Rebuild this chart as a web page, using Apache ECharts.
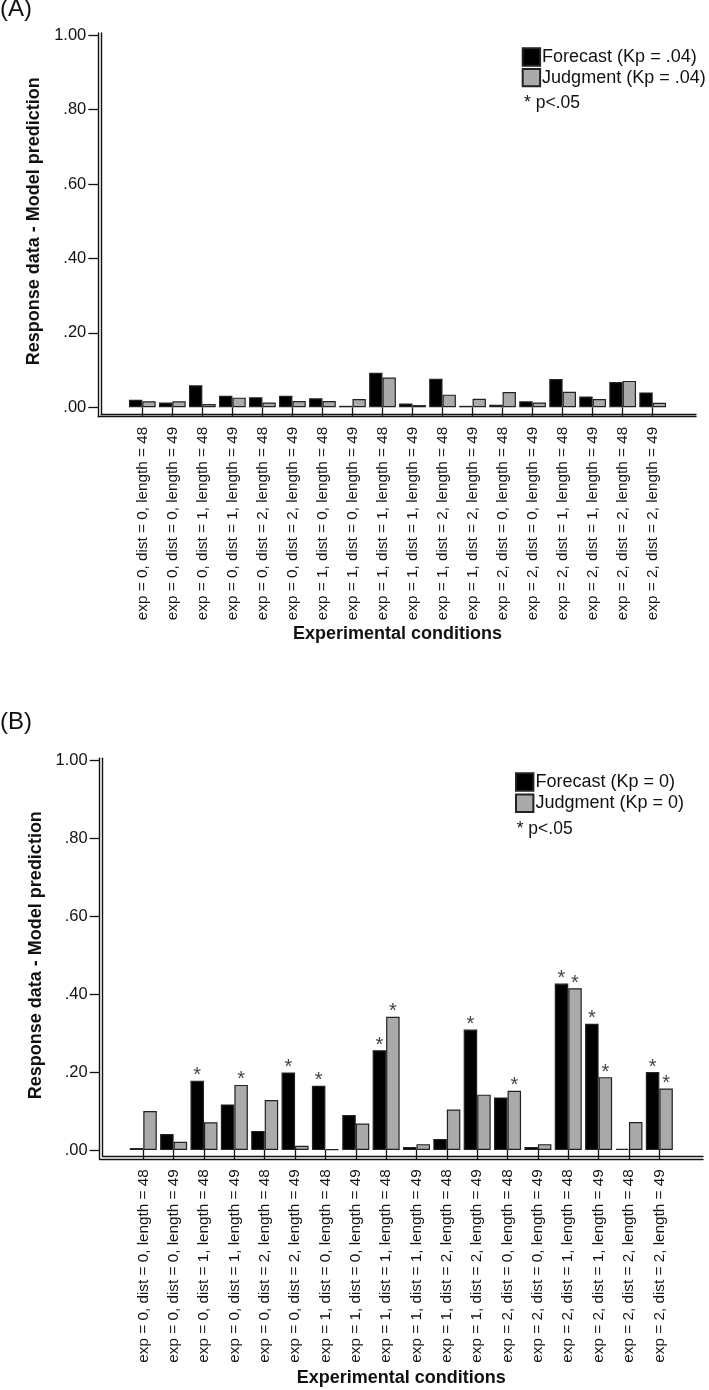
<!DOCTYPE html>
<html><head><meta charset="utf-8">
<script src="https://cdn.jsdelivr.net/npm/echarts@6.0.0/dist/echarts.min.js"></script>
<style>html,body{margin:0;padding:0;background:#fff}#c{width:709px;height:1390px}</style>
</head><body><div id="c"></div>
<script>
// ---- data ----
const categories = [
  'exp = 0, dist = 0, length = 48','exp = 0, dist = 0, length = 49',
  'exp = 0, dist = 1, length = 48','exp = 0, dist = 1, length = 49',
  'exp = 0, dist = 2, length = 48','exp = 0, dist = 2, length = 49',
  'exp = 1, dist = 0, length = 48','exp = 1, dist = 0, length = 49',
  'exp = 1, dist = 1, length = 48','exp = 1, dist = 1, length = 49',
  'exp = 1, dist = 2, length = 48','exp = 1, dist = 2, length = 49',
  'exp = 2, dist = 0, length = 48','exp = 2, dist = 0, length = 49',
  'exp = 2, dist = 1, length = 48','exp = 2, dist = 1, length = 49',
  'exp = 2, dist = 2, length = 48','exp = 2, dist = 2, length = 49'
];
const forecastA = [.020,.013,.059,.031,.027,.031,.024,.004,.093,.010,.077,.004,.007,.016,.076,.029,.068,.040];
const judgmentA = [.016,.016,.009,.026,.013,.017,.017,.022,.080,.006,.034,.023,.041,.013,.042,.022,.071,.012];
const forecastB = [.005,.041,.178,.117,.049,.199,.165,.090,.256,.008,.028,.309,.135,.008,.427,.324,.003,.200];
const judgmentB = [.100,.021,.071,.167,.128,.011,.002,.068,.342,.015,.104,.142,.152,.015,.415,.187,.072,.158];
const sigForecastB = [0,0,1,0,0,1,1,0,1,0,0,1,0,0,1,1,0,1];
const sigJudgmentB = [0,0,0,1,0,0,0,0,1,0,0,0,1,0,1,1,0,1];
const namesA = ['Forecast (Kp = .04)','Judgment (Kp = .04)'];
const namesB = ['Forecast (Kp = 0)','Judgment (Kp = 0)'];
const yTickLabels = ['.00','.20','.40','.60','.80','1.00'];
const yAxisTitle = 'Response data - Model prediction';
const xAxisTitle = 'Experimental conditions';
const noteText = '* p<.05';

// ---- styles ----
const FONT = '"Liberation Sans", Arial, Helvetica, sans-serif';
const INK = '#111';
const H = 1390;

function panel(p) {
  const gi = p.gridBase;
  const grids = [
    {left:p.barLeft, right:p.barRight, top:p.barTop, bottom:H-p.barBase, outerBoundsMode:'none', containLabel:false},
    {left:p.outerX, right:p.frameRight, top:p.frameTop, bottom:H-p.outerY, outerBoundsMode:'none', containLabel:false},
    {left:p.innerX, right:p.frameRight, top:p.frameTop, bottom:H-p.innerY, outerBoundsMode:'none', containLabel:false}
  ];
  const lineAxis = (idx) => ({
    type:'value', gridIndex:idx, min:0, max:1, silent:true,
    axisLine:{show:true, onZero:false, lineStyle:{color:INK, width:1.4}},
    axisTick:{show:false}, axisLabel:{show:false}, splitLine:{show:false}
  });
  const xAxes = [
    {type:'category', gridIndex:gi, data:categories, offset:p.outerY-p.barBase,
     axisLine:{show:false}, axisTick:{show:true, alignWithLabel:true, length:9, lineStyle:{color:INK,width:1.3}},
     axisLabel:{interval:0, rotate:90, margin:10, fontSize:15.3, color:INK, fontFamily:FONT},
     name:xAxisTitle, nameLocation:'middle', nameGap:p.xNameGap,
     nameTextStyle:{fontSize:18, fontWeight:'bold', color:INK, fontFamily:FONT}},
    lineAxis(gi+1), lineAxis(gi+2)
  ];
  const yAxes = [
    {type:'value', gridIndex:gi, min:0, max:1, interval:0.2, offset:p.barLeft-p.outerX,
     axisLine:{show:false}, axisTick:{show:true, length:10, lineStyle:{color:INK,width:1.3}},
     axisLabel:{margin:12, fontSize:16.5, color:INK, fontFamily:FONT,
       formatter:(v)=>yTickLabels[Math.round(v*5)]},
     splitLine:{show:false},
     name:yAxisTitle, nameLocation:'middle', nameGap:p.yNameGap,
     nameTextStyle:{fontSize:18, fontWeight:'bold', color:INK, fontFamily:FONT}},
    lineAxis(gi+1), lineAxis(gi+2)
  ];
  const mk = (name, data, color, sig) => ({
    type:'bar', name, data, xAxisIndex:p.axBase, yAxisIndex:p.axBase,
    barGap:'0%', barCategoryGap:'11%',
    itemStyle:{color, borderColor:'#222', borderWidth:1.2},
    label: sig ? {show:true, position:'top', distance:-5, fontSize:20, color:'#444', fontFamily:FONT,
      formatter:(q)=> sig[q.dataIndex] ? '*' : ''} : {show:false}
  });
  const series = [
    mk(p.names[0], p.f, '#000', p.sigF),
    mk(p.names[1], p.j, '#aaaaaa', p.sigJ)
  ];
  const legend = {
    data:p.names, orient:'vertical', left:p.legX, top:p.legY, padding:0,
    itemWidth:17.4, itemHeight:17.4, itemGap:p.legGap, icon:'rect',
    textStyle:{fontSize:18, color:INK, fontFamily:FONT, padding:[0,0,0,-3]},
    selectedMode:false
  };
  return {grids, xAxes, yAxes, series, legend};
}

const A = panel({gridBase:0, axBase:0, barLeft:127.3, barRight:41.3, barTop:35.3, barBase:407.3,
  outerX:98.3, innerX:101.2, frameRight:13, frameTop:33, outerY:416.7, innerY:413.9,
  xNameGap:208, yNameGap:55, names:namesA, f:forecastA, j:judgmentA,
  legX:521.7, legY:47.3, legGap:1.2});
const B = panel({gridBase:3, axBase:3, barLeft:128.1, barRight:34.5, barTop:760.3, barBase:1150,
  outerX:99.7, innerX:102.7, frameRight:6, frameTop:758.3, outerY:1159.2, innerY:1156.4,
  xNameGap:210, yNameGap:55, names:namesB, f:forecastB, j:judgmentB, sigF:sigForecastB, sigJ:sigJudgmentB,
  legX:515, legY:772.3, legGap:1.9});

const option = {
  backgroundColor:'#fff',
  animation:false,
  grid:[...A.grids, ...B.grids],
  xAxis:[...A.xAxes, ...B.xAxes],
  yAxis:[...A.yAxes, ...B.yAxes],
  series:[...A.series, ...B.series],
  legend:[A.legend, B.legend],
  graphic:[
    {type:'text', left:0, top:-3, style:{text:'(A)', fontSize:24, fill:INK, fontFamily:FONT}},
    {type:'text', left:0, top:710, style:{text:'(B)', fontSize:24, fill:INK, fontFamily:FONT}},
    {type:'text', left:524, top:94, style:{text:noteText, fontSize:17.5, fill:INK, fontFamily:FONT}},
    {type:'text', left:516.7, top:820.5, style:{text:noteText, fontSize:17.5, fill:INK, fontFamily:FONT}}
  ]
};
const chart = echarts.init(document.getElementById('c'), null, {renderer:'canvas'});
chart.setOption(option);
</script>
</body></html>
